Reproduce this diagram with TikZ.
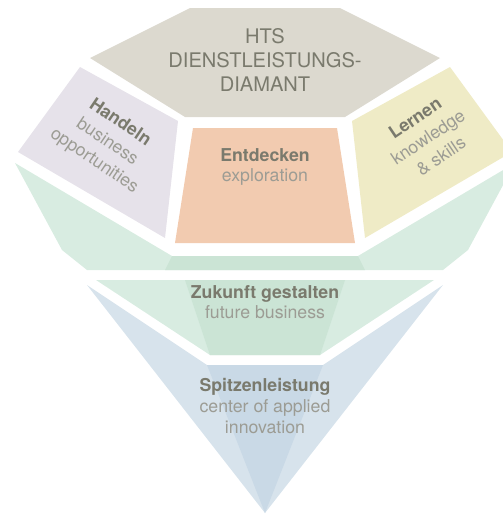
\documentclass[tikz,border=0pt]{standalone}
\usepackage{xcolor}
\usepackage{tikz}
\usepackage{fontspec}
\setmainfont{TeX Gyre Heros}
\definecolor{dmgray}{HTML}{DCD9CF}
\definecolor{dmpurple}{HTML}{E6E2EA}
\definecolor{dmorange}{HTML}{F2CBB0}
\definecolor{dmyellow}{HTML}{EFEBC6}
\definecolor{dmgreen}{HTML}{D8ECE1}
\definecolor{dmgreendark}{HTML}{CBE4D5}
\definecolor{dmblue}{HTML}{D7E3EC}
\definecolor{dmbluedark}{HTML}{C9D9E6}
\definecolor{txtdark}{HTML}{7A7A6D}
\definecolor{txtlight}{HTML}{9C9C94}
\usetikzlibrary{positioning}

\begin{document}
\begin{tikzpicture}[
    x=0.025cm, y=-0.025cm,
    facettext/.style={align=center, text=txtlight, font=\fontsize{12.6}{14.6}\selectfont},
    sidetext/.style={facettext, font=\fontsize{12.6}{16.4}\selectfont},
    headtext/.style={align=center, text=txtdark, font=\fontsize{14.3}{17.4}\selectfont},
]
\path[use as bounding box, clip] (0,0) rectangle (503,515);

% crown
\fill[dmgray] (190,8) -- (340,8) -- (440,58) -- (345,117) -- (185,117) -- (90,58) -- cycle;
\fill[dmpurple] (80,67) -- (178,121) -- (165,238) -- (18,152) -- cycle;
\fill[dmorange] (193,128) -- (337,128) -- (355,243) -- (175,243) -- cycle;
\fill[dmyellow] (450,67) -- (352,121) -- (365,238) -- (512,152) -- cycle;
\fill[dmgreen] (15,163) -- (172,256) -- (358,256) -- (515,163) -- (468,250) -- (443,270)
    -- (87,270) -- (62,250) -- cycle;
\fill[dmgreendark] (172,256) -- (358,256) -- (365,270) -- (165,270) -- cycle;

% pavilion
\fill[dmgreen] (96,280) -- (434,280) -- (320,355) -- (210,355) -- cycle;
\fill[dmgreendark] (185,280) -- (345,280) -- (320,355) -- (210,355) -- cycle;
\fill[dmblue] (87,285) -- (207,365) -- (323,365) -- (443,285) -- (265,513) -- cycle;
\fill[dmbluedark] (207,365) -- (323,365) -- (265,513) -- cycle;

\node[headtext] (title) at (265,60) {HTS\\DIENSTLEISTUNGS-\\DIAMANT};
\node[sidetext, rotate=-34] (handeln) at (107,142)
    {\textcolor{txtdark}{\bfseries Handeln}\\business\\opportunities};
\node[facettext] (entdecken) at (265,167)
    {\textcolor{txtdark}{\bfseries Entdecken}\\exploration};
\node[sidetext, rotate=34] (lernen) at (428,137)
    {\textcolor{txtdark}{\bfseries Lernen}\\knowledge\\\& skills};
\node[facettext] (zukunft) at (265,302)
    {\textcolor{txtdark}{\bfseries Zukunft gestalten}\\future business};
\node[facettext] (spitze) at (265,406)
    {\textcolor{txtdark}{\bfseries Spitzenleistung}\\center of applied\\innovation};
\end{tikzpicture}
\end{document}
